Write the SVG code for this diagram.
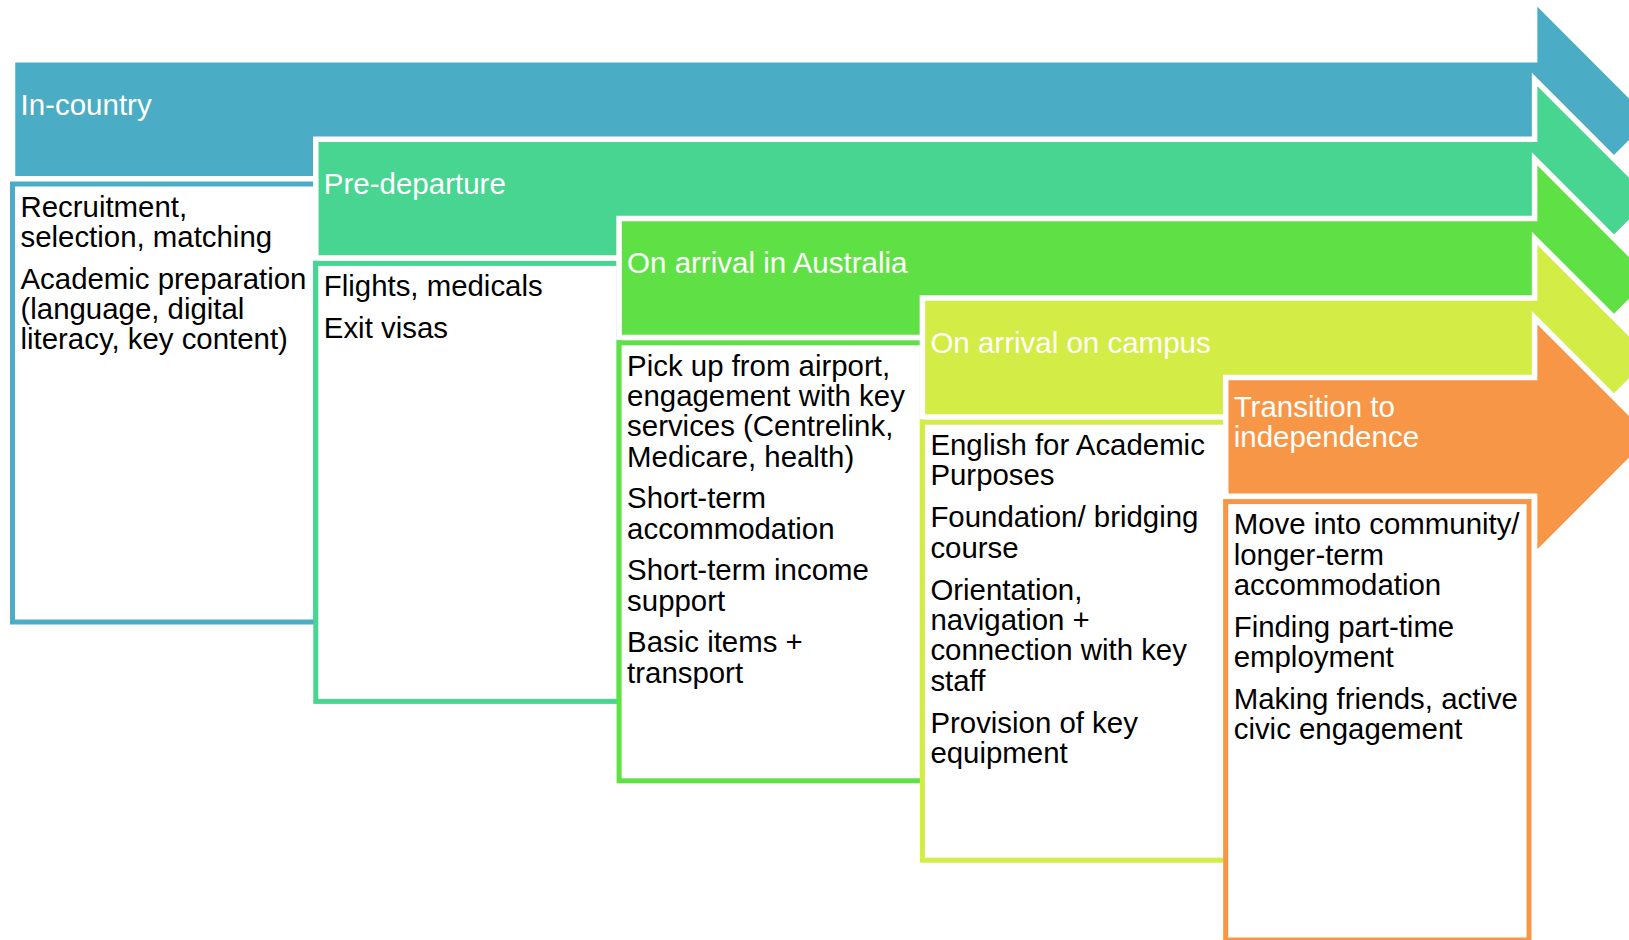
<svg xmlns="http://www.w3.org/2000/svg" width="1629" height="940" viewBox="0 0 1629 940">
<style>
.arrow{stroke:#ffffff;stroke-width:5.5;stroke-linejoin:miter}
.box{fill:#ffffff;stroke-width:5}
.title{font-family:"Liberation Sans",Arial,sans-serif;font-size:29.5px;fill:#ffffff}
.body{font-family:"Liberation Sans",Arial,sans-serif;font-size:29.4px;fill:#000000}
</style>
<rect x="0" y="0" width="1629" height="940" fill="#ffffff"/>
<g id="connectors"/>
<g id="node-in-country">
<path class="arrow" fill="#4BACC6" d="M12.5,59.8 H1534.6 V0.1 L1653.7,119.2 L1534.6,238.3 V178.7 H12.5 Z"/>
<rect class="box" stroke="#4BACC6" x="12.5" y="184" width="303.3" height="438"/>
<text class="title" x="20.5" y="114.5">In-country</text>
<text class="body"><tspan x="20.5" y="216.8">Recruitment,</tspan><tspan x="20.5" y="247.1">selection, matching</tspan><tspan x="20.5" y="288.8">Academic preparation</tspan><tspan x="20.5" y="319.1">(language, digital</tspan><tspan x="20.5" y="349.4">literacy, key content)</tspan></text>
</g>
<g id="node-pre-departure">
<path class="arrow" fill="#48D592" d="M315.8,139.2 H1534.6 V79.5 L1653.7,198.6 L1534.6,317.7 V258.1 H315.8 Z"/>
<rect class="box" stroke="#48D592" x="315.8" y="263.4" width="303.3" height="438"/>
<text class="title" x="323.8" y="193.9">Pre-departure</text>
<text class="body"><tspan x="323.8" y="296.2">Flights, medicals</tspan><tspan x="323.8" y="337.9">Exit visas</tspan></text>
</g>
<g id="node-arrival-australia">
<path class="arrow" fill="#5FE146" d="M619.1,218.6 H1534.6 V158.9 L1653.7,278 L1534.6,397.1 V337.5 H619.1 Z"/>
<rect class="box" stroke="#5FE146" x="619.1" y="342.8" width="303.3" height="438"/>
<text class="title" x="627.1" y="273.3">On arrival in Australia</text>
<text class="body"><tspan x="627.1" y="375.6">Pick up from airport,</tspan><tspan x="627.1" y="405.9">engagement with key</tspan><tspan x="627.1" y="436.2">services (Centrelink,</tspan><tspan x="627.1" y="466.5">Medicare, health)</tspan><tspan x="627.1" y="508.2">Short-term</tspan><tspan x="627.1" y="538.5">accommodation</tspan><tspan x="627.1" y="580.2">Short-term income</tspan><tspan x="627.1" y="610.5">support</tspan><tspan x="627.1" y="652.2">Basic items +</tspan><tspan x="627.1" y="682.5">transport</tspan></text>
</g>
<g id="node-arrival-campus">
<path class="arrow" fill="#D3EC46" d="M922.4,298 H1534.6 V238.3 L1653.7,357.4 L1534.6,476.5 V416.9 H922.4 Z"/>
<rect class="box" stroke="#D3EC46" x="922.4" y="422.2" width="303.3" height="438"/>
<text class="title" x="930.4" y="352.7">On arrival on campus</text>
<text class="body"><tspan x="930.4" y="455">English for Academic</tspan><tspan x="930.4" y="485.3">Purposes</tspan><tspan x="930.4" y="527.3">Foundation/ bridging</tspan><tspan x="930.4" y="557.6">course</tspan><tspan x="930.4" y="599.6">Orientation,</tspan><tspan x="930.4" y="629.9">navigation +</tspan><tspan x="930.4" y="660.2">connection with key</tspan><tspan x="930.4" y="690.5">staff</tspan><tspan x="930.4" y="732.5">Provision of key</tspan><tspan x="930.4" y="762.8">equipment</tspan></text>
</g>
<g id="node-transition">
<path class="arrow" fill="#F79646" d="M1225.7,377.4 H1534.6 V317.7 L1653.7,436.8 L1534.6,555.9 V496.3 H1225.7 Z"/>
<rect class="box" stroke="#F79646" x="1225.7" y="501.6" width="303.3" height="438.4"/>
<text class="title"><tspan x="1233.7" y="416.7">Transition to</tspan><tspan x="1233.7" y="447">independence</tspan></text>
<text class="body"><tspan x="1233.7" y="534.4">Move into community/</tspan><tspan x="1233.7" y="564.7">longer-term</tspan><tspan x="1233.7" y="595">accommodation</tspan><tspan x="1233.7" y="636.7">Finding part-time</tspan><tspan x="1233.7" y="667">employment</tspan><tspan x="1233.7" y="708.7">Making friends, active</tspan><tspan x="1233.7" y="739">civic engagement</tspan></text>
</g>
</svg>
